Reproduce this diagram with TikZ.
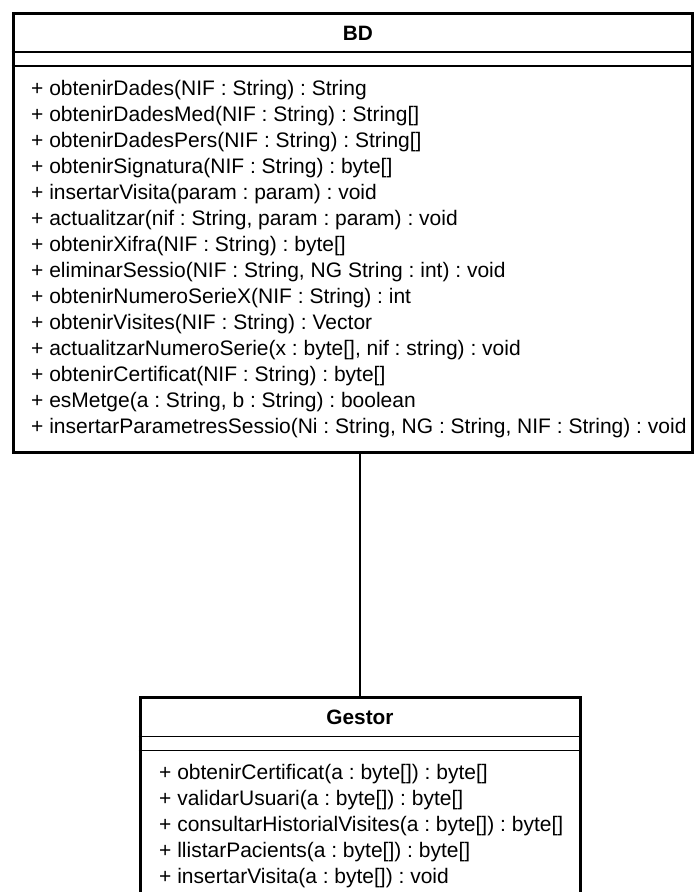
\documentclass[tikz,border=0pt]{standalone}
\usepackage{fontspec}
\setmainfont{Liberation Sans}
\frenchspacing
\begin{document}
\begin{tikzpicture}[x=1pt,y=-1pt,
  classbox/.style={draw=black, line width=3pt, fill=white, inner sep=0pt},
  sepline/.style={draw=black, line width=1.7pt},
  link/.style={draw=black, line width=1.6pt},
  ctitle/.style={font=\fontsize{20.8}{24}\selectfont\bfseries, inner sep=0pt},
  op/.style={font=\fontsize{21}{24}\selectfont\frenchspacing, anchor=base west, inner sep=0pt}]
\useasboundingbox (0,0) rectangle (694,892);
\fill[white] (0,0) rectangle (694,892);
\clip (0,0) rectangle (694,892);
% class boxes
\node[classbox, minimum width=679pt, minimum height=439pt] (bd) at (352.5,232.5) {};
\node[classbox, minimum width=440pt, minimum height=230pt] (gestor) at (360,812) {};
% connector
\draw[link] (bd.south -| gestor.north) -- (gestor.north);
% BD compartments
\draw[sepline] ([yshift=-40.5pt]bd.north west) -- ([yshift=-40.5pt]bd.north east);
\draw[sepline] ([yshift=-54.5pt]bd.north west) -- ([yshift=-54.5pt]bd.north east);
\node[ctitle] (bdt) at (358,33) {BD};
\node[op] (b1)  at (31,95)  {+ obtenirDades(NIF : String) : String};
\node[op] (b2)  at (31,121) {+ obtenirDadesMed(NIF : String) : String[]};
\node[op] (b3)  at (31,147) {+ obtenirDadesPers(NIF : String) : String[]};
\node[op] (b4)  at (31,173) {+ obtenirSignatura(NIF : String) : byte[]};
\node[op] (b5)  at (31,199) {+ insertarVisita(param : param) : void};
\node[op] (b6)  at (31,225) {+ actualitzar(nif : String, param : param) : void};
\node[op] (b7)  at (31,251) {+ obtenirXifra(NIF : String) : byte[]};
\node[op] (b8)  at (31,277) {+ eliminarSessio(NIF : String, NG String : int) : void};
\node[op] (b9)  at (31,303) {+ obtenirNumeroSerieX(NIF : String) : int};
\node[op] (b10) at (31,329) {+ obtenirVisites(NIF : String) : Vector};
\node[op] (b11) at (31,355) {+ actualitzarNumeroSerie(x : byte[], nif : string) : void};
\node[op] (b12) at (31,381) {+ obtenirCertificat(NIF : String) : byte[]};
\node[op] (b13) at (31,407) {+ esMetge(a : String, b : String) : boolean};
\node[op] (b14) at (31,433) {+ insertarParametresSessio(Ni : String, NG : String, NIF : String) : void};
% Gestor compartments
\draw[sepline] ([yshift=-41pt]gestor.north west) -- ([yshift=-41pt]gestor.north east);
\draw[sepline] ([yshift=-55pt]gestor.north west) -- ([yshift=-55pt]gestor.north east);
\node[ctitle] (gt) at (360,717.5) {Gestor};
\node[op] (g1) at (159,779) {+ obtenirCertificat(a : byte[]) : byte[]};
\node[op] (g2) at (159,805) {+ validarUsuari(a : byte[]) : byte[]};
\node[op] (g3) at (159,831) {+ consultarHistorialVisites(a : byte[]) : byte[]};
\node[op] (g4) at (159,857) {+ llistarPacients(a : byte[]) : byte[]};
\node[op] (g5) at (159,883) {+ insertarVisita(a : byte[]) : void};
\end{tikzpicture}
\end{document}
